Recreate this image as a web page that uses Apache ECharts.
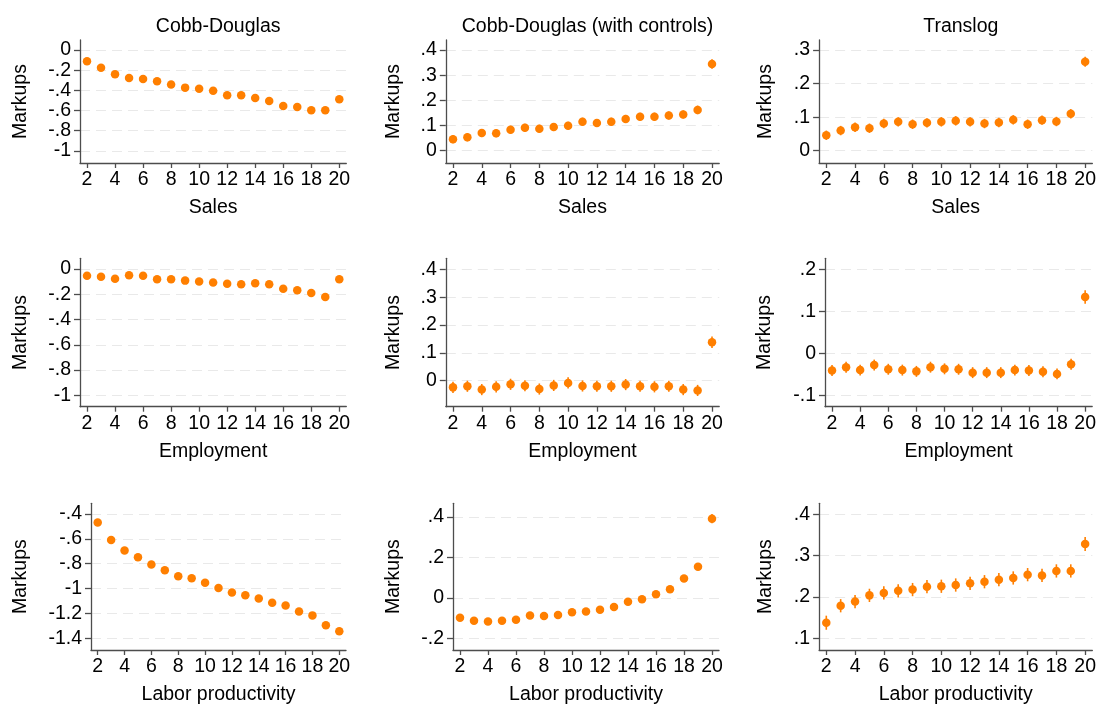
<!DOCTYPE html>
<html>
<head>
<meta charset="utf-8">
<script src="https://cdn.jsdelivr.net/npm/echarts@6/dist/echarts.min.js"></script>
<style>
html,body{margin:0;padding:0;background:#fff;}
#chart{width:1099px;height:706px;}
</style>
</head>
<body>
<div id="chart"></div>
<script>
// ---------- data ----------
var xs = [2,3,4,5,6,7,8,9,10,11,12,13,14,15,16,17,18,19,20];
var xTicks = [2,4,6,8,10,12,14,16,18,20];

var colTitles = ['Cobb-Douglas', 'Cobb-Douglas (with controls)', 'Translog'];
var rowNames = ['Sales', 'Employment', 'Labor productivity'];
var yName = 'Markups';

// Row 1: Sales
var cdSales  = [-0.112,-0.175,-0.240,-0.277,-0.287,-0.310,-0.343,-0.373,-0.383,-0.403,-0.449,-0.449,-0.475,-0.505,-0.554,-0.564,-0.597,-0.597,-0.488];
var cdcSales = [0.045,0.053,0.070,0.069,0.083,0.091,0.087,0.094,0.099,0.115,0.110,0.115,0.126,0.135,0.135,0.140,0.144,0.162,0.344];
var tlSales  = [0.046,0.060,0.070,0.067,0.081,0.086,0.079,0.083,0.086,0.089,0.086,0.081,0.084,0.092,0.079,0.091,0.087,0.110,0.265];
// Row 2: Employment
var cdEmp  = [-0.053,-0.061,-0.077,-0.050,-0.053,-0.082,-0.082,-0.092,-0.098,-0.106,-0.116,-0.121,-0.113,-0.121,-0.156,-0.169,-0.190,-0.222,-0.082];
var cdcEmp = [-0.024,-0.020,-0.032,-0.022,-0.013,-0.018,-0.030,-0.017,-0.008,-0.019,-0.020,-0.020,-0.014,-0.020,-0.022,-0.020,-0.032,-0.035,0.138];
var tlEmp  = [-0.041,-0.033,-0.040,-0.028,-0.038,-0.040,-0.043,-0.033,-0.037,-0.038,-0.046,-0.046,-0.046,-0.040,-0.041,-0.044,-0.049,-0.026,0.134];
// Row 3: Labor productivity
var cdLab  = [-0.469,-0.609,-0.694,-0.749,-0.807,-0.852,-0.900,-0.916,-0.953,-0.995,-1.032,-1.053,-1.080,-1.114,-1.135,-1.183,-1.215,-1.294,-1.342];
var cdcLab = [-0.097,-0.112,-0.115,-0.112,-0.107,-0.086,-0.088,-0.083,-0.070,-0.066,-0.057,-0.044,-0.018,-0.006,0.019,0.044,0.096,0.154,0.391];
var tlLab  = [0.138,0.179,0.189,0.204,0.210,0.215,0.218,0.225,0.226,0.229,0.233,0.237,0.242,0.246,0.254,0.252,0.263,0.263,0.328];

// confidence-interval half widths (estimated)
var cdSalesErr  = [0.007,0.007,0.007,0.007,0.007,0.007,0.007,0.007,0.007,0.007,0.007,0.007,0.007,0.007,0.007,0.007,0.007,0.008,0.009];
var cdcSalesErr = [0.016,0.016,0.016,0.016,0.016,0.016,0.016,0.016,0.016,0.016,0.016,0.016,0.016,0.016,0.016,0.016,0.016,0.017,0.019];
var tlSalesErr  = [0.014,0.014,0.014,0.014,0.014,0.014,0.014,0.014,0.014,0.014,0.014,0.014,0.014,0.014,0.014,0.014,0.014,0.014,0.015];
var cdEmpErr  = [0.012,0.012,0.012,0.012,0.012,0.012,0.012,0.012,0.012,0.012,0.012,0.012,0.012,0.012,0.012,0.012,0.012,0.013,0.014];
var cdcEmpErr = [0.020,0.020,0.020,0.020,0.020,0.020,0.020,0.020,0.020,0.020,0.020,0.020,0.020,0.020,0.020,0.020,0.020,0.020,0.021];
var tlEmpErr  = [0.013,0.013,0.013,0.013,0.013,0.013,0.013,0.013,0.013,0.013,0.013,0.013,0.013,0.013,0.013,0.013,0.013,0.013,0.016];
var cdLabErr  = [0.012,0.012,0.012,0.012,0.012,0.012,0.012,0.012,0.012,0.012,0.012,0.012,0.012,0.012,0.012,0.012,0.012,0.012,0.013];
var cdcLabErr = [0.014,0.014,0.014,0.014,0.014,0.014,0.014,0.014,0.014,0.014,0.014,0.014,0.014,0.014,0.014,0.014,0.015,0.017,0.023];
var tlLabErr  = [0.017,0.016,0.016,0.016,0.016,0.016,0.016,0.016,0.016,0.016,0.016,0.016,0.016,0.016,0.016,0.016,0.016,0.016,0.017];

// y tick labels per panel
var yTicks1 = [0,-0.2,-0.4,-0.6,-0.8,-1];
var yTicks2 = [0,0.1,0.2,0.3,0.4];
var yTicks3 = [0,0.1,0.2,0.3];
var yTicks4 = [0,-0.2,-0.4,-0.6,-0.8,-1];
var yTicks5 = [0,0.1,0.2,0.3,0.4];
var yTicks6 = [-0.1,0,0.1,0.2];
var yTicks7 = [-0.4,-0.6,-0.8,-1,-1.2,-1.4];
var yTicks8 = [-0.2,0,0.2,0.4];
var yTicks9 = [0.1,0.2,0.3,0.4];

// ---------- layout ----------
var panels = [
  {v: cdSales,  e: cdSalesErr,  t: yTicks1, left: 80,    top: 40,    w: 266.3, h: 123,   ymin: -1.12,  ymax: 0.099,  gap: 49, row: 0, col: 0},
  {v: cdcSales, e: cdcSalesErr, t: yTicks2, left: 445.8, top: 40,    w: 273.4, h: 123,   ymin: -0.049, ymax: 0.4397, gap: 42, row: 0, col: 1},
  {v: tlSales,  e: tlSalesErr,  t: yTicks3, left: 819.1, top: 40,    w: 273.4, h: 123,   ymin: -0.0366,ymax: 0.3298, gap: 43, row: 0, col: 2},
  {v: cdEmp,    e: cdEmpErr,    t: yTicks4, left: 80,    top: 258.3, w: 266.3, h: 148.4, ymin: -1.09,  ymax: 0.0847, gap: 49, row: 1, col: 0},
  {v: cdcEmp,   e: cdcEmpErr,   t: yTicks5, left: 445.8, top: 258.3, w: 273.4, h: 148.4, ymin: -0.0934,ymax: 0.4395, gap: 42, row: 1, col: 1},
  {v: tlEmp,    e: tlEmpErr,    t: yTicks6, left: 825,   top: 258.3, w: 267.4, h: 148.4, ymin: -0.1271,ymax: 0.2262, gap: 50, row: 1, col: 2},
  {v: cdLab,    e: cdLabErr,    t: yTicks7, left: 91,    top: 503.3, w: 255,   h: 148.4, ymin: -1.493, ymax: -0.315, gap: 60, row: 2, col: 0},
  {v: cdcLab,   e: cdcLabErr,   t: yTicks8, left: 453,   top: 503.3, w: 266,   h: 148.4, ymin: -0.2555,ymax: 0.4667, gap: 49, row: 2, col: 1},
  {v: tlLab,    e: tlLabErr,    t: yTicks9, left: 819.1, top: 503.3, w: 273.4, h: 148.4, ymin: 0.0721, ymax: 0.4263, gap: 43, row: 2, col: 2}
];

var FONT = "'Liberation Sans', Arial, sans-serif";
var FS = 19.5;
var ORANGE = '#ff7f00';
var AXIS = '#4d4d4d';

function fmt(v) {
  var s = String(Math.round(v * 10) / 10);
  return s.replace(/^(-?)0\./, '$1.');
}

var grids = [], xAxes = [], yAxes = [], series = [], titles = [];
panels.forEach(function (p, i) {
  grids.push({left: p.left, top: p.top, width: p.w, height: p.h, containLabel: false});
  xAxes.push({
    type: 'value', gridIndex: i, min: 1.5, max: 20.5,
    name: rowNames[p.row], nameLocation: 'middle', nameGap: 35,
    nameTextStyle: {fontFamily: FONT, fontSize: FS, color: '#000'},
    axisLine: {show: true, onZero: false, lineStyle: {color: AXIS, width: 1.3}},
    axisTick: {show: true, length: 5, lineStyle: {color: AXIS, width: 1.3}, customValues: xTicks},
    axisLabel: {fontFamily: FONT, fontSize: FS, color: '#000', margin: 7, customValues: xTicks,
      formatter: function (v) { return String(v); }},
    splitLine: {show: false}
  });
  yAxes.push({
    type: 'value', gridIndex: i, min: p.ymin, max: p.ymax,
    name: yName, nameLocation: 'middle', nameGap: p.gap, nameRotate: 90,
    nameTextStyle: {fontFamily: FONT, fontSize: FS, color: '#000'},
    axisLine: {show: true, onZero: false, lineStyle: {color: AXIS, width: 1.3}},
    axisTick: {show: true, length: 6, lineStyle: {color: AXIS, width: 1.3}, customValues: p.t},
    axisLabel: {fontFamily: FONT, fontSize: FS, color: '#000', margin: 9, customValues: p.t, formatter: fmt},
    splitLine: {show: true, lineStyle: {color: '#e9e9e9', width: 1, type: [10, 6]}}
  });
  var ci = xs.map(function (x, k) { return [x, p.v[k] - p.e[k], p.v[k] + p.e[k]]; });
  series.push({
    type: 'custom', xAxisIndex: i, yAxisIndex: i, silent: true,
    data: ci, encode: {x: 0, y: [1, 2]},
    renderItem: function (params, api) {
      var a = api.coord([api.value(0), api.value(1)]);
      var b = api.coord([api.value(0), api.value(2)]);
      return {type: 'line', shape: {x1: a[0], y1: a[1], x2: b[0], y2: b[1]},
        style: {stroke: ORANGE, lineWidth: 1.6}};
    },
    z: 2
  });
  series.push({
    type: 'scatter', xAxisIndex: i, yAxisIndex: i, silent: true,
    data: xs.map(function (x, k) { return [x, p.v[k]]; }),
    symbol: 'circle', symbolSize: 8.5,
    itemStyle: {color: ORANGE, opacity: 1},
    z: 3
  });
  if (p.row === 0) {
    titles.push({
      text: colTitles[p.col], left: p.left + p.w / 2, top: 12, textAlign: 'center',
      textStyle: {fontFamily: FONT, fontSize: FS, fontWeight: 'normal', color: '#000'}
    });
  }
});

var chart = echarts.init(document.getElementById('chart'), null, {renderer: 'canvas'});
chart.setOption({
  backgroundColor: '#fff',
  animation: false,
  title: titles,
  grid: grids,
  xAxis: xAxes,
  yAxis: yAxes,
  series: series
});
</script>
</body>
</html>
